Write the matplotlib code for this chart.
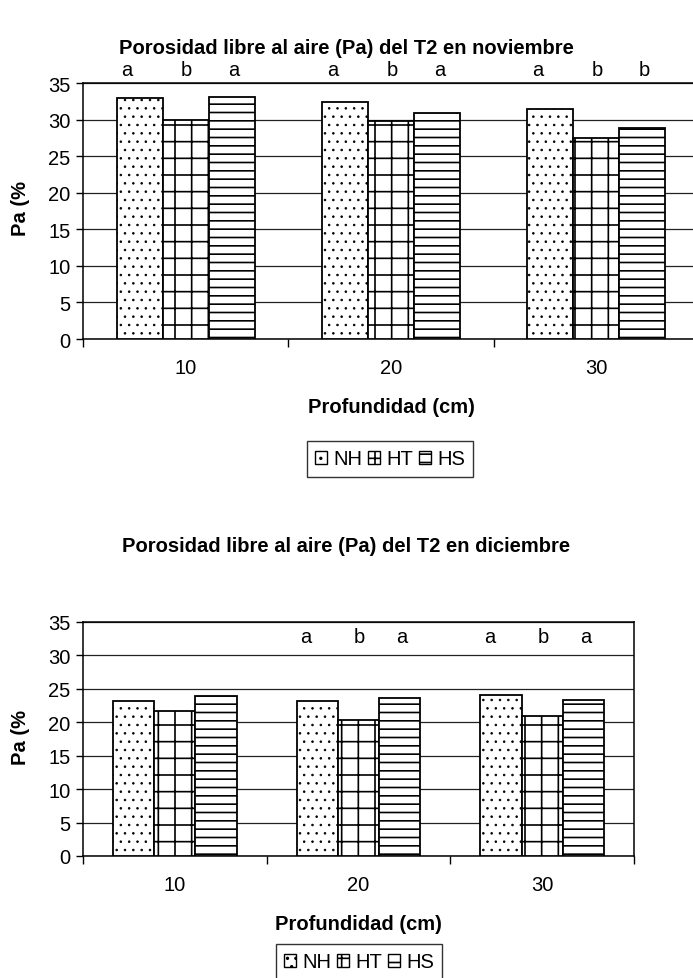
import numpy as np
import matplotlib
matplotlib.use("Agg")
import matplotlib.pyplot as plt
from matplotlib.patches import Patch

plt.rcParams['font.family'] = ['Liberation Sans', 'DejaVu Sans']
plt.rcParams['hatch.linewidth'] = 1.2
plt.rcParams['hatch.color'] = 'black'

# data
depths = ['10', '20', '30']
series = ['NH', 'HT', 'HS']
nov_nh = [32.9, 32.4, 31.4]
nov_ht = [29.9, 29.8, 27.5]
nov_hs = [33.1, 30.9, 28.9]
nov_letters = [['a', 'b', 'a'], ['a', 'b', 'a'], ['a', 'b', 'b']]
dic_nh = [23.2, 23.2, 24.1]
dic_ht = [21.7, 20.4, 20.9]
dic_hs = [23.9, 23.6, 23.4]
dic_letters = [['', '', ''], ['a', 'b', 'a'], ['a', 'b', 'a']]

hatches = ['..', '+', '--']
W = 0.224
FS = 14.5
# the letters were typed above the groups, not exactly over each bar
LETTER_DX = [-0.285, 0.005, 0.235]


def thin_dots(bars):
    # dots look small and light in the original
    for b in bars:
        if hasattr(b, 'set_hatch_linewidth'):
            b.set_hatch_linewidth(0.6)


def draw(ax, vals, letters, letter_y, title, title_y, leg_x, leg_y):
    x = np.arange(len(depths))
    for k, (v, h, name) in enumerate(zip(vals, hatches, series)):
        bars = ax.bar(x + (k - 1) * W, v, W, facecolor='white', edgecolor='black',
                      hatch=h, linewidth=1.3, label=name, zorder=3)
        if k == 0:
            thin_dots(bars)
        for i in range(len(depths)):
            ax.text(x[i] + LETTER_DX[k], letter_y, letters[i][k], ha='center',
                    va='center', fontsize=FS, clip_on=False)
    ax.set_xlim(-0.5, 2.5)
    ax.set_ylim(0, 35)
    ax.set_yticks(np.arange(0, 36, 5))
    ax.yaxis.grid(True, color='#222222', linewidth=0.9, zorder=0)
    ax.set_axisbelow(True)
    ax.set_xticks(x)
    ax.set_xticklabels(depths, fontsize=FS)
    ax.set_xticks([-0.5, 0.5, 1.5, 2.5], minor=True)
    ax.tick_params(axis='x', which='major', length=0, pad=14)
    ax.tick_params(axis='x', which='minor', length=6, width=1, direction='out')
    ax.tick_params(axis='y', length=5, width=1, labelsize=FS, pad=4)
    for s in ax.spines.values():
        s.set_linewidth(1.1)
    ax.set_xlabel('Profundidad (cm)', fontsize=FS, fontweight='bold', labelpad=14)
    fig.text(0.5, title_y, title, ha='center', va='center', fontsize=14.5,
             fontweight='bold')
    handles = [Patch(facecolor='white', edgecolor='black', hatch=h, label=n)
               for h, n in zip(hatches, series)]
    ax.legend(handles=handles, ncol=3, loc='center',
              bbox_to_anchor=(leg_x, leg_y), bbox_transform=fig.transFigure,
              frameon=True, fancybox=False, edgecolor='black', fontsize=FS,
              handlelength=0.6, handleheight=0.6, handletextpad=0.3,
              columnspacing=0.3, borderpad=0.4, borderaxespad=0)


fig = plt.figure(figsize=(6.93, 9.79), dpi=100)
ax1 = fig.add_axes([83 / 693, 1 - 340 / 979, 616 / 693, 256 / 979])
ax2 = fig.add_axes([83 / 693, 1 - 857 / 979, 551 / 693, 234 / 979])

draw(ax1, [nov_nh, nov_ht, nov_hs], nov_letters, 36.9,
     'Porosidad libre al aire (Pa) del T2 en noviembre', 1 - 48 / 979,
     390 / 693, 1 - 460 / 979)
draw(ax2, [dic_nh, dic_ht, dic_hs], dic_letters, 32.9,
     'Porosidad libre al aire (Pa) del T2 en diciembre', 1 - 547 / 979,
     359 / 693, 1 - 963 / 979)

fig.text(20 / 693, 1 - 209 / 979, 'Pa (%', rotation=90, ha='center', va='center',
         fontsize=FS, fontweight='bold')
fig.text(20 / 693, 1 - 738 / 979, 'Pa (%', rotation=90, ha='center', va='center',
         fontsize=FS, fontweight='bold')

fig.savefig('out.png', dpi=100)
